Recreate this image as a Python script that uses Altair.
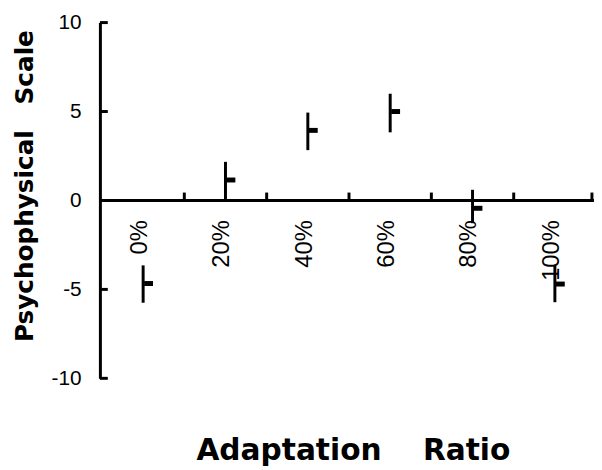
import altair as alt
import pandas as pd

# ---- data ----
ratios = [0, 20, 40, 60, 80, 100]
ratio_labels = ["0%", "20%", "40%", "60%", "80%", "100%"]
means = [-4.67, 1.15, 3.94, 5.0, -0.44, -4.7]
lows = [-5.75, 0.0, 2.83, 3.83, -1.28, -5.72]
highs = [-3.65, 2.17, 4.94, 6.0, 0.6, -3.67]
y_ticks = [-10, -5, 0, 5, 10]
x_ticks = [10, 30, 50, 70, 90, 109]
x_domain = [-10.5, 109.5]
y_domain = [-10, 10]

df = pd.DataFrame({"ratio": ratios, "label": ratio_labels, "mean": means,
                   "lo": lows, "hi": highs, "zero": [0] * len(ratios)})
ytick_df = pd.DataFrame({"v": y_ticks, "x0": [x_domain[0]] * len(y_ticks)})
xtick_df = pd.DataFrame({"t": x_ticks, "zero": [0] * len(x_ticks)})
xaxis_df = pd.DataFrame({"x": [x_domain[0]], "x2": [x_domain[1]], "zero": [0]})

xs = alt.Scale(domain=x_domain, nice=False, zero=False)
ys = alt.Scale(domain=y_domain, nice=False, zero=False)

x_axis = alt.Axis(title="Adaptation\u00a0\u00a0\u00a0 Ratio", domain=False, ticks=False,
                  labels=False, grid=False, titleFont="DejaVu Sans", titleFontSize=30,
                  titleFontWeight="bold", titlePadding=58, titleColor="black",
                  titleX=256, titleAlign="center")
y_axis = alt.Axis(title="Psychophysical\u00a0\u00a0 Scale", values=y_ticks, grid=False,
                  ticks=False, domain=True, domainColor="black", domainWidth=3,
                  labelExpr="'' + datum.value",
                  labelFont="Liberation Sans", labelFontSize=21, labelColor="black",
                  labelPadding=19, titleFont="DejaVu Sans", titleFontSize=25,
                  titleFontWeight="bold", titleColor="black", titleX=-76, titleY=165,
                  titleAlign="center", titleBaseline="middle")


def X(f):
    return alt.X(f, scale=xs, axis=x_axis)


def Y(f):
    return alt.Y(f, scale=ys, axis=y_axis)


bars = alt.Chart(df).mark_rule(color="black", strokeWidth=3).encode(
    x=X("ratio:Q"), y=Y("lo:Q"), y2="hi:Q")

stubs = alt.Chart(df).mark_tick(orient="horizontal", color="black", size=9,
                                 thickness=5, xOffset=5.5, opacity=1).encode(
    x=X("ratio:Q"), y=Y("mean:Q"))

labels = alt.Chart(df).mark_text(angle=270, align="right", baseline="middle",
                                 yOffset=20, xOffset=-3, font="Liberation Sans",
                                 fontSize=24, color="black").encode(
    x=X("ratio:Q"), y=Y("zero:Q"), text="label:N")

xaxis_line = alt.Chart(xaxis_df).mark_rule(color="black", strokeWidth=3).encode(
    x=X("x:Q"), x2="x2:Q", y=Y("zero:Q"))

xticks = alt.Chart(xtick_df).mark_tick(orient="vertical", color="black", size=8,
                                        thickness=3, yOffset=-4, opacity=1).encode(
    x=X("t:Q"), y=Y("zero:Q"))

yticks = alt.Chart(ytick_df).mark_tick(orient="horizontal", color="black", size=8,
                                        thickness=3, xOffset=4, opacity=1).encode(
    x=X("x0:Q"), y=Y("v:Q"))

chart = alt.layer(xaxis_line, xticks, yticks, bars, stubs, labels).properties(
    width=500, height=360,
    autosize=alt.AutoSizeParams(type="none"),
    padding={"left": 93, "top": 12, "right": 0, "bottom": 90},
    background="white",
).configure_view(stroke=None)

chart.save("out.html", embed_options={"renderer": "svg", "actions": False})
